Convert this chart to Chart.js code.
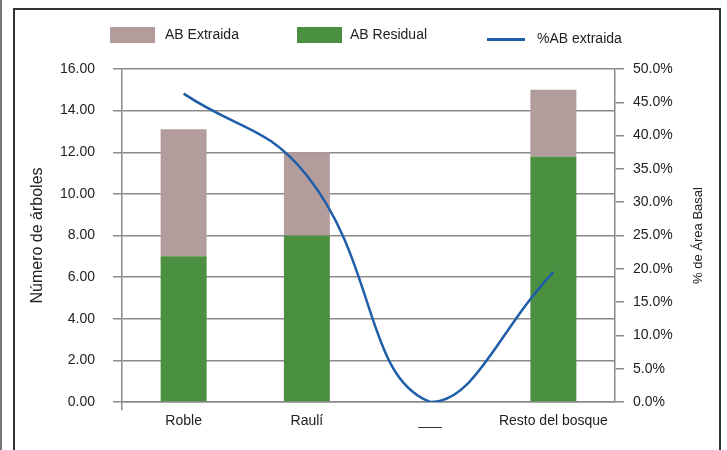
<!DOCTYPE html>
<html>
<head>
<meta charset="utf-8">
<script src="https://cdn.jsdelivr.net/npm/chart.js@4"></script>
<style>
  html, body { margin: 0; padding: 0; background: #fff; }
  #wrap { position: relative; width: 727px; height: 450px; overflow: hidden; }
  #edge { position: absolute; left: 0; top: 0; width: 2px; height: 450px; background: #777; }
  #frame { position: absolute; left: 13px; top: 8px; width: 708px; height: 460px; border: 2px solid #333; box-sizing: border-box; }
  canvas { position: absolute; left: 0; top: 0; }
  .leg { position: absolute; font-family: "Liberation Sans", Arial, sans-serif; font-size: 14px; color: #222; }
  .sw { position: absolute; }
</style>
</head>
<body>
<div id="wrap">
  <div id="edge"></div>
  <div id="frame"></div>
  <canvas id="grafico" width="727" height="450"></canvas>
  <!-- leyenda -->
  <div class="sw" style="left:110px;top:27px;width:45px;height:16px;background:#b39c9c"></div>
  <div class="leg" style="left:165px;top:26px">AB Extraida</div>
  <div class="sw" style="left:297px;top:27px;width:45px;height:16px;background:#4b8f40"></div>
  <div class="leg" style="left:350px;top:26px">AB Residual</div>
  <div class="sw" style="left:487px;top:38px;width:38px;height:3px;background:#1f5ea8"></div>
  <div class="leg" style="left:537px;top:30px">%AB extraida</div>
</div>
<script>
const categorias = ["Roble", "Raulí", "___", "Resto del bosque"];
const abResidual = [7.0, 8.0, 0, 11.8];
const abExtraida = [6.1, 4.0, 0, 3.2];
const pctExtraida = [46.3, 34.0, 0.0, 19.5];

const gris = "#8a8a8a";
const fuente = { family: "'Liberation Sans', Arial, sans-serif", size: 14 };

// titulo del eje derecho, leido de abajo hacia arriba como en Excel
const tituloDerecho = {
    id: "tituloDerecho",
    afterDraw(chart) {
        const ctx = chart.ctx;
        const a = chart.chartArea;
        ctx.save();
        ctx.translate(698, (a.top + a.bottom) / 2);
        ctx.rotate(-Math.PI / 2);
        ctx.fillStyle = "#222";
        ctx.font = "13px 'Liberation Sans', Arial, sans-serif";
        ctx.textAlign = "center";
        ctx.textBaseline = "middle";
        ctx.fillText("% de Área Basal", 0, 0);
        ctx.restore();
    },
};

new Chart(document.getElementById("grafico"), {
    data: {
        labels: categorias,
        datasets: [{
            type: "line",
            label: "%AB extraida",
            data: pctExtraida,
            yAxisID: "y1",
            borderColor: "#1f5ea8",
            borderWidth: 2.5,
            pointRadius: 0,
            tension: 0.45,
            order: 0,
        }, {
            type: "bar",
            label: "AB Residual",
            data: abResidual,
            backgroundColor: "#4b8f40",
            categoryPercentage: 1,
            barPercentage: 0.373,
            order: 1,
        }, {
            type: "bar",
            label: "AB Extraida",
            data: abExtraida,
            backgroundColor: "#b39c9c",
            categoryPercentage: 1,
            barPercentage: 0.373,
            order: 2,
        }],
    },
    options: {
        responsive: false,
        animation: false,
        layout: { padding: { top: 69, left: 0, right: 0, bottom: 0 } },
        plugins: { legend: { display: false }, tooltip: { enabled: false } },
        scales: {
            x: {
                stacked: true,
                offset: true,
                afterFit: (s) => { s.height = 48; },
                grid: {
                    drawOnChartArea: false,
                    tickLength: 8,
                    lineWidth: 1.5,
                    color: (ctx) => (ctx.index === 0 || ctx.index === categorias.length) ? gris : "rgba(0,0,0,0)",
                },
                border: { display: true, color: gris, width: 1.5 },
                ticks: { color: "#222", font: fuente, padding: 3 },
            },
            y: {
                stacked: true,
                position: "left",
                min: 0,
                max: 16,
                afterFit: (s) => { s.width = 122; },
                grid: { color: gris, lineWidth: 1.5, tickLength: 9 },
                border: { display: true, color: gris, width: 1.5 },
                ticks: {
                    stepSize: 2,
                    color: "#222",
                    font: fuente,
                    padding: 18,
                    callback: (v) => v.toFixed(2),
                },
                title: {
                    display: true,
                    text: "Número de árboles",
                    color: "#222",
                    font: { family: fuente.family, size: 16 },
                    padding: { top: 28, bottom: 0 },
                },
            },
            y1: {
                position: "right",
                min: 0,
                max: 50,
                afterFit: (s) => { s.width = 112; },
                grid: { drawOnChartArea: false, color: gris, lineWidth: 1.5, tickLength: 9 },
                border: { display: true, color: gris, width: 1.5 },
                ticks: {
                    stepSize: 5,
                    color: "#222",
                    font: fuente,
                    padding: 9,
                    callback: (v) => v.toFixed(1) + "%",
                },
            },
        },
    },
    plugins: [tituloDerecho],
});
</script>
</body>
</html>
